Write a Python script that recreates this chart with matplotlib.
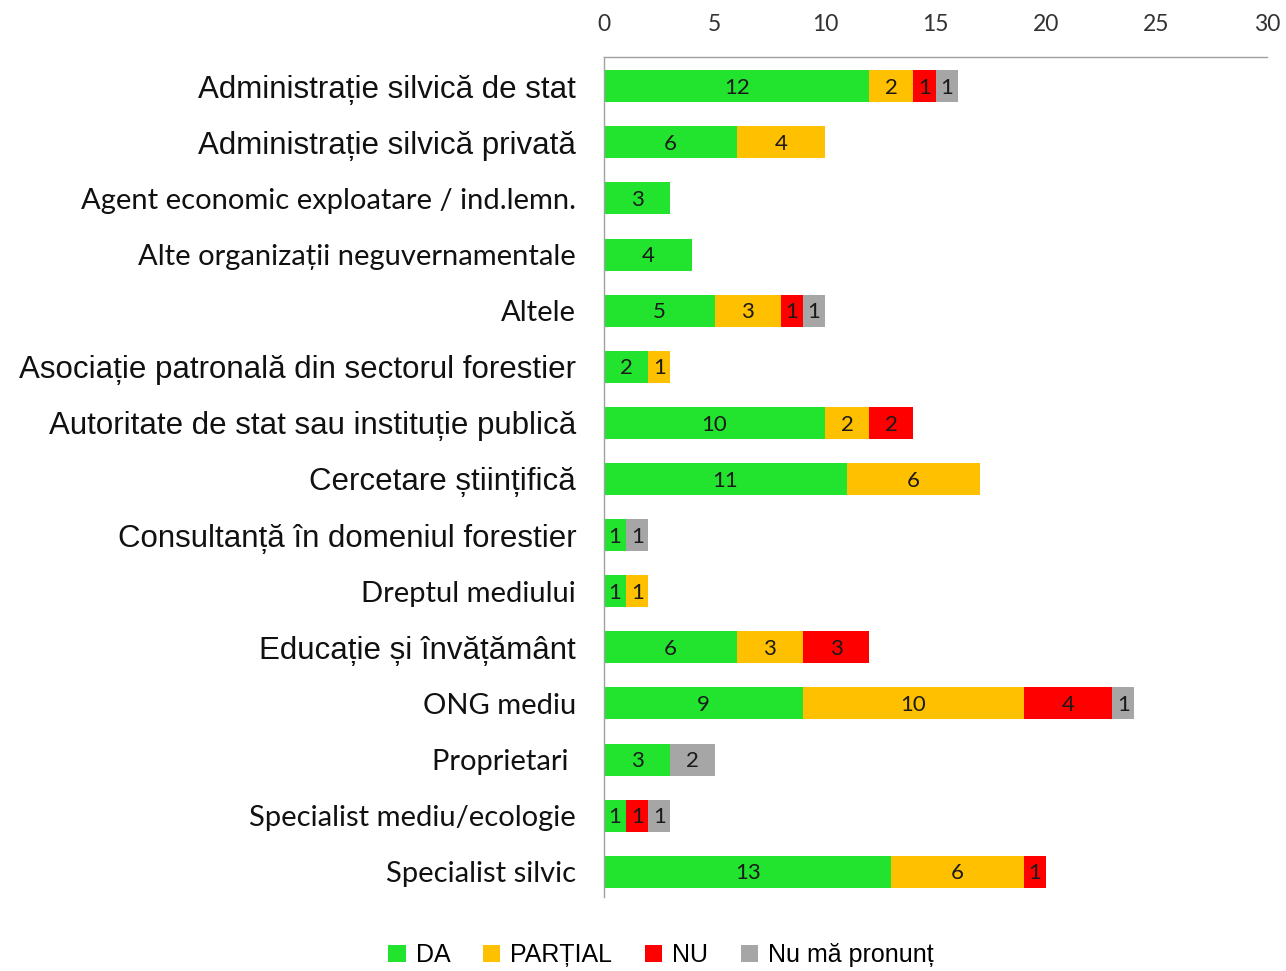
import matplotlib
matplotlib.use('Agg')
import matplotlib.pyplot as plt
from matplotlib.patches import Patch
import numpy as np

categories = [
    'Administrație silvică de stat',
    'Administrație silvică privată',
    'Agent economic exploatare / ind.lemn.',
    'Alte organizații neguvernamentale',
    'Altele',
    'Asociație patronală din sectorul forestier',
    'Autoritate de stat sau instituție publică',
    'Cercetare științifică',
    'Consultanță în domeniul forestier',
    'Dreptul mediului',
    'Educație și învățământ',
    'ONG mediu',
    'Proprietari ',
    'Specialist mediu/ecologie',
    'Specialist silvic',
]
da      = [12, 6, 3, 4, 5, 2, 10, 11, 1, 1, 6, 9, 3, 1, 13]
partial = [2, 4, 0, 0, 3, 1, 2, 6, 0, 1, 3, 10, 0, 0, 6]
nu      = [1, 0, 0, 0, 1, 0, 2, 0, 0, 0, 3, 4, 0, 1, 1]
nu_stiu = [1, 0, 0, 0, 1, 0, 0, 0, 1, 0, 0, 1, 2, 1, 0]
series_names = ['DA', 'PARȚIAL', 'NU', 'Nu mă pronunț']
colors = ['#22E32E', '#FFC000', '#FF0000', '#A6A6A6']
x_ticks = [0, 5, 10, 15, 20, 25, 30]

# labels that look like Arial in the original (the rest look like Calibri)
arial_labels = {0, 1, 5, 6, 7, 8, 10}

fig = plt.figure(figsize=(12.86, 9.71), dpi=100)
ax = fig.add_axes([604 / 1286, 1 - 897 / 971, (1267 - 604) / 1286, (897 - 57) / 971])

y = np.arange(len(categories))
left = np.zeros(len(categories))
for vals, color in zip([da, partial, nu, nu_stiu], colors):
    vals = np.array(vals, dtype=float)
    ax.barh(y, vals, left=left, height=0.57, color=color, edgecolor='none')
    for yi, (l, v) in enumerate(zip(left, vals)):
        if v > 0:
            ax.text(l + v / 2, yi + 0.03, f'{int(v)}', ha='center', va='center',
                    fontsize=16, family='Lato', color='#1a1a1a')
    left += vals

ax.set_xlim(0, 30)
ax.set_ylim(14.45, -0.52)
ax.set_xticks(x_ticks)
ax.xaxis.tick_top()
ax.tick_params(axis='x', length=0, pad=16, labelsize=16.5, labelcolor='#333333')
for lbl in ax.get_xticklabels():
    lbl.set_family('Lato')
ax.set_yticks(y)
ax.set_yticklabels(categories)
ax.tick_params(axis='y', length=0, pad=20, labelcolor='#111111')
for i, lbl in enumerate(ax.get_yticklabels()):
    if i in arial_labels:
        lbl.set_family('Liberation Sans')
        lbl.set_fontsize(22.5)
    else:
        lbl.set_family('Lato')
        lbl.set_fontsize(21)

for side in ['right', 'bottom']:
    ax.spines[side].set_visible(False)
for side in ['top', 'left']:
    ax.spines[side].set_color('#A0A0A0')
    ax.spines[side].set_linewidth(1)

handles = [Patch(facecolor=c, edgecolor='none') for c in colors]
leg = fig.legend(handles, series_names, loc='center', bbox_to_anchor=(661 / 1286, 1 - 955 / 971),
                 ncol=4, frameon=False, handlelength=0.7, handleheight=0.7,
                 handletextpad=0.4, columnspacing=1.3,
                 prop={'family': 'Liberation Sans', 'size': 18})

fig.savefig('out.png', dpi=100)
